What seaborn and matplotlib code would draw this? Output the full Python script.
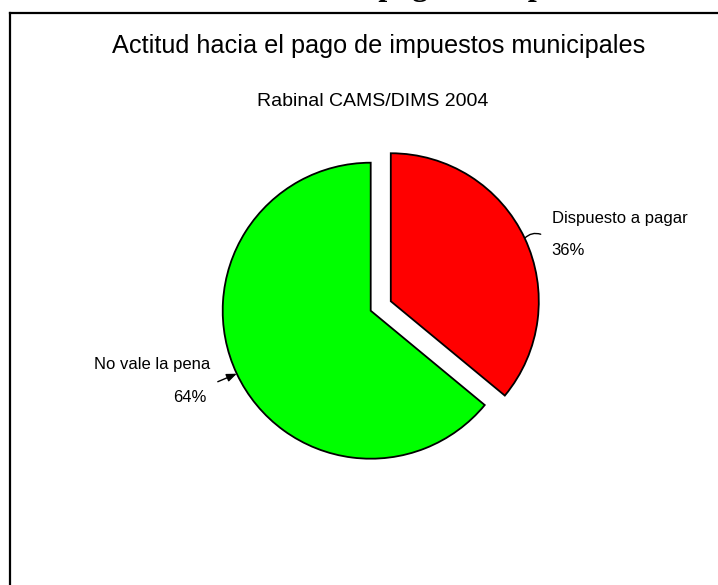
import numpy as np
import matplotlib
matplotlib.use("Agg")
import matplotlib.pyplot as plt
from matplotlib.lines import Line2D
import seaborn as sns

sns.set_theme(style="white")
plt.rcParams['font.family'] = ['Liberation Sans', 'DejaVu Sans']
plt.rcParams['text.color'] = 'black'

# ---- data ----
categories = ["Dispuesto a pagar", "No vale la pena"]
values = [36, 64]
pct_labels = ["36%", "64%"]
colors = ["#FF0000", "#00FF00"]
explode = [0.15, 0.0]
title = "Actitud hacia el pago de impuestos municipales"
subtitle = "Rabinal CAMS/DIMS 2004"

W, H = 718, 585
fig = plt.figure(figsize=(W / 100, H / 100), dpi=100)
fig.patch.set_facecolor("white")

# cropped bold serif heading at very top (only descenders visible)
renderer = fig.canvas.get_renderer()
tmp = fig.text(0, 0, "Actitud hacia el ", fontsize=23, fontweight="bold",
               family="Liberation Serif")
prefix_w = tmp.get_window_extent(renderer).width
tmp.remove()
fig.text((378 - prefix_w) / W, 1 + 5 / H, title, fontsize=23, fontweight="bold",
         family="Liberation Serif", ha="left", va="baseline", color="black")

# frame lines (top and left)
fig.add_artist(Line2D([9.7 / W, 1.0], [1 - 13 / H, 1 - 13 / H], transform=fig.transFigure,
                      color="black", lw=1.6, solid_capstyle="projecting"))
fig.add_artist(Line2D([9.7 / W, 9.7 / W], [0, 1 - 13 / H], transform=fig.transFigure,
                      color="black", lw=1.6, solid_capstyle="projecting"))

# titles
fig.text(378.5 / W, 1 - 46 / H, title, fontsize=18.2, ha="center", va="center", color="black")
fig.text(372.5 / W, 1 - 101 / H, subtitle, fontsize=14, ha="center", va="center", color="black")

# pie axes
cx, cy, r = 370.7, 310.7, 148.0
lim = 1.5
ax = fig.add_axes([(cx - r * lim) / W, (H - cy - r * lim) / H, 2 * r * lim / W, 2 * r * lim / H])
wedges, _ = ax.pie(values, colors=colors, explode=explode, startangle=90, counterclock=False,
                   radius=1.0, wedgeprops=dict(edgecolor="black", linewidth=1.3))
ax.set_xlim(-lim, lim)
ax.set_ylim(-lim, lim)
ax.set_aspect("equal")
ax.axis("off")

# labels with leader lines
for i, w in enumerate(wedges):
    mid = np.deg2rad((w.theta1 + w.theta2) / 2)
    c = w.center
    tip = (c[0] + np.cos(mid), c[1] + np.sin(mid))
    if np.cos(mid) > 0:
        start = (tip[0] + 16 / r, tip[1] + 4 / r)
        ax.annotate("", xy=tip, xytext=start,
                    arrowprops=dict(arrowstyle="-", color="black", lw=1.0,
                                    connectionstyle="arc3,rad=0.3", shrinkA=0, shrinkB=0))
        ax.text(tip[0] + 27 / r, tip[1] + 20 / r, categories[i], fontsize=12,
                ha="left", va="center", color="black")
        ax.text(tip[0] + 27 / r, tip[1] - 12 / r, pct_labels[i], fontsize=12,
                ha="left", va="center", color="black")
    else:
        start = (tip[0] - 19 / r, tip[1] - 8 / r)
        ax.annotate("", xy=tip, xytext=start,
                    arrowprops=dict(arrowstyle="-|>,head_length=0.5,head_width=0.2",
                                    color="black", lw=1.0, shrinkA=0, shrinkB=0))
        ax.text(tip[0] - 27 / r, tip[1] + 9 / r, categories[i], fontsize=12,
                ha="right", va="center", color="black")
        ax.text(tip[0] - 30 / r, tip[1] - 24 / r, pct_labels[i], fontsize=12,
                ha="right", va="center", color="black")

fig.savefig("out.png", dpi=100, facecolor="white")
